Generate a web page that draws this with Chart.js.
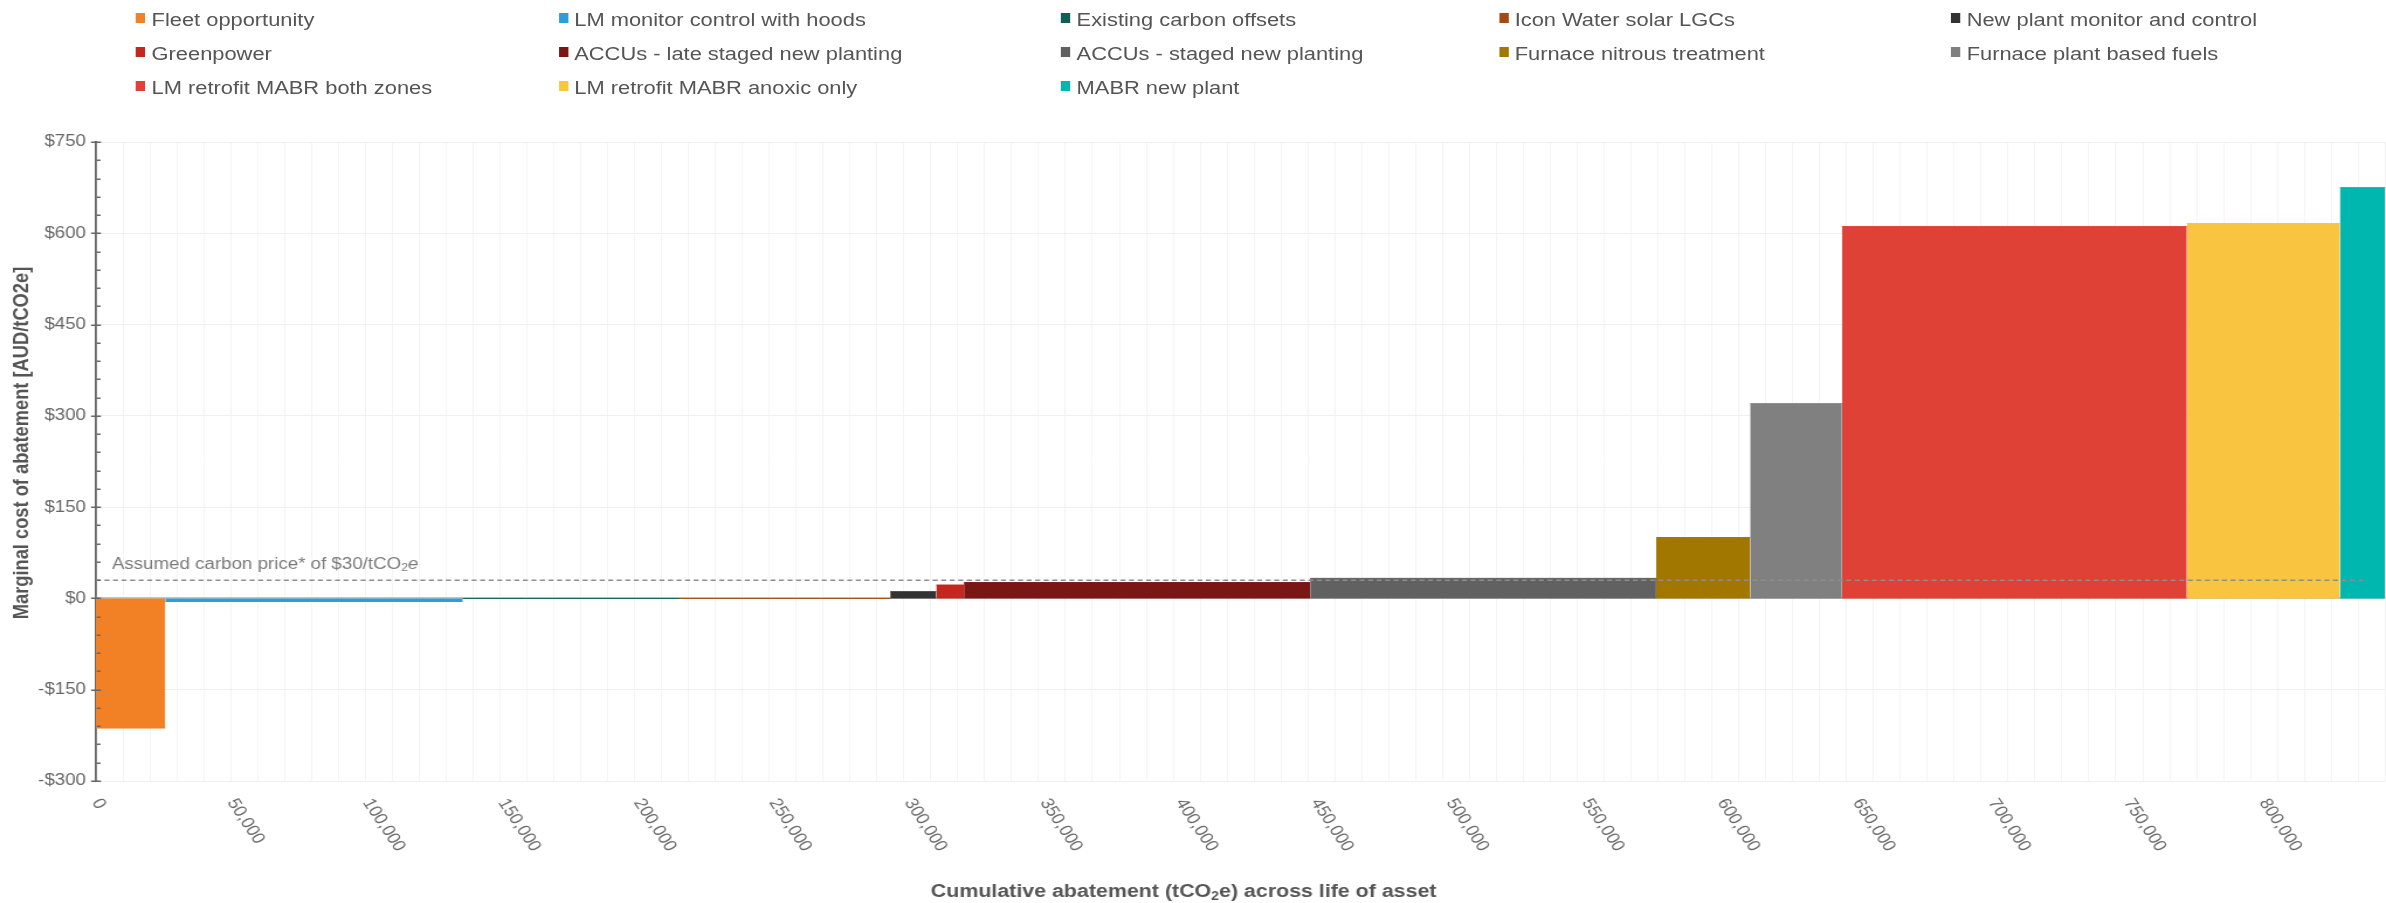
<!DOCTYPE html>
<html>
<head>
<meta charset="utf-8">
<title>Marginal abatement cost curve</title>
<script src="https://cdn.jsdelivr.net/npm/chart.js@4.4.1/dist/chart.umd.min.js"></script>
<style>
  html, body { margin: 0; padding: 0; background: #ffffff; overflow: hidden; }
  #stage { position: absolute; left: 0; top: 0; width: 2040px; height: 903px;
           transform-origin: 0 0; transform: scaleX(1.16961); }
  #chartBox { position: absolute; left: 0; top: 0; width: 2040px; height: 903px; }
  #legend { position: absolute; left: 0; top: 0; width: 2040px; height: 110px; }
  .lg-item { position: absolute; height: 20px; line-height: 20px; white-space: nowrap;
             font: 18.7px "Liberation Sans", Arial, sans-serif; color: #555555; }
  .lg-sw { position: absolute; left: 0; top: 4.8px; width: 8px; height: 10px; }
  .lg-tx { position: absolute; left: 13.4px; top: 0; }
</style>
</head>
<body>
<div id="stage">
  <div id="chartBox"><canvas id="mac"></canvas></div>
  <div id="legend"></div>
</div>
<script>
// Abatement options, in merit order (cheapest first)
const categories = [
  'Fleet opportunity',
  'LM monitor control with hoods',
  'Existing carbon offsets',
  'Icon Water solar LGCs',
  'New plant monitor and control',
  'Greenpower',
  'ACCUs - late staged new planting',
  'ACCUs - staged new planting',
  'Furnace nitrous treatment',
  'Furnace plant based fuels',
  'LM retrofit MABR both zones',
  'LM retrofit MABR anoxic only',
  'MABR new plant'
];

// Abatement delivered by each option over the asset life (tCO2e) = bar width
const abatement = [25600, 109800, 80000, 77800, 17000, 10200, 127800, 127700, 34700, 33900, 127300, 56500, 40000];

// Marginal cost of each option (AUD/tCO2e) = bar height
const costs = [-213, -5, 0, 0, 11, 22, 26, 33, 100, 320, 611, 616, 675];

const colors = [
  '#f28125', '#2b9fd9', '#0f5e59', '#a54a12', '#333333',
  '#c3271f', '#7a1613', '#616161', '#a27700', '#808080',
  '#e04137', '#f9c541', '#00b7af'
];

// Assumed carbon price reference line
const carbonPrice = 30;
const carbonPriceSpan = [0, 838000];

// Axis ranges and tick spacing
const xRange = [0, 845000];
const xMinorStep = 10000;
const xMajorStep = 50000;
const xLabelMax = 800000;
const yRange = [-300, 750];
const yMajorStep = 150;
const yMinorStep = 30;

const FONT = '"Liberation Sans", Arial, sans-serif';
Chart.defaults.font.family = FONT;

// Each option becomes a filled step from its cumulative start to end
let cumulative = 0;
const blockSets = categories.map((name, i) => {
  const x0 = cumulative;
  const x1 = cumulative + abatement[i];
  cumulative = x1;
  return {
    type: 'line',
    label: name,
    data: [{ x: x0, y: costs[i] }, { x: x1, y: costs[i] }],
    fill: 'origin',
    backgroundColor: colors[i],
    borderColor: colors[i],
    borderWidth: 1,
    pointRadius: 0,
    pointHoverRadius: 0,
    tension: 0,
    order: 1
  };
});

const priceSet = {
  type: 'line',
  label: 'carbon price',
  data: [{ x: carbonPriceSpan[0], y: carbonPrice }, { x: carbonPriceSpan[1], y: carbonPrice }],
  fill: false,
  borderColor: '#8e8e8e',
  borderWidth: 1.5,
  borderDash: [4.3, 3],
  pointRadius: 0,
  order: 0
};

const fmtMoney = v => (v < 0 ? '-$' : '$') + Math.abs(v);
const fmtThousands = v => v.toLocaleString('en-US');

// Extra axis furniture: minor y ticks, slanted x labels, axis titles, price note
const furniture = {
  id: 'furniture',
  afterDraw(chart) {
    const { ctx, chartArea } = chart;
    const xs = chart.scales.x, ys = chart.scales.y;
    ctx.save();

    // y-axis tick marks: long across the axis for majors, short inward for minors
    ctx.strokeStyle = '#666666';
    ctx.lineWidth = 1.5;
    for (let v = yRange[0]; v <= yRange[1]; v += yMinorStep) {
      const py = Math.round(ys.getPixelForValue(v)) + 0.25;
      const major = v % yMajorStep === 0;
      ctx.beginPath();
      if (major) { ctx.moveTo(chartArea.left - 4.2, py); ctx.lineTo(chartArea.left + 4.3, py); }
      else { ctx.moveTo(chartArea.left + 0.6, py); ctx.lineTo(chartArea.left + 3.9, py); }
      ctx.stroke();
    }

    // x tick labels, slanted down to the right
    ctx.fillStyle = '#6a6a6a';
    ctx.font = '16px ' + FONT;
    ctx.textAlign = 'left';
    ctx.textBaseline = 'middle';
    for (let v = xRange[0]; v <= xLabelMax; v += xMajorStep) {
      const px = xs.getPixelForValue(v);
      ctx.save();
      ctx.translate(px, chartArea.bottom + 19);
      ctx.rotate(Math.PI / 3);
      ctx.fillText(fmtThousands(v), 0, 0);
      ctx.restore();
    }

    // helper: text made of runs (for the subscript "2")
    const drawParts = (parts, x, y, align) => {
      let total = 0;
      parts.forEach(p => { ctx.font = p.font; total += ctx.measureText(p.t).width; });
      let cx = align === 'center' ? x - total / 2 : x;
      ctx.textAlign = 'left';
      parts.forEach(p => {
        ctx.font = p.font;
        ctx.fillText(p.t, cx, y + (p.dy || 0));
        cx += ctx.measureText(p.t).width;
      });
    };

    // x-axis title
    ctx.fillStyle = '#555555';
    ctx.textBaseline = 'alphabetic';
    const tb = 'bold 18.3px ' + FONT, ts = 'bold 12px ' + FONT;
    drawParts([
      { t: 'Cumulative abatement (tCO', font: tb },
      { t: '2', font: ts, dy: 3 },
      { t: 'e) across life of asset', font: tb }
    ], 1012, 897, 'center');

    // y-axis title
    ctx.save();
    ctx.translate(19, 443);
    ctx.rotate(-Math.PI / 2);
    ctx.font = 'bold 18.3px ' + FONT;
    ctx.textAlign = 'center';
    ctx.textBaseline = 'middle';
    ctx.fillText('Marginal cost of abatement [AUD/tCO2e]', 0, 0);
    ctx.restore();

    // carbon price note above the dashed line
    ctx.fillStyle = '#7a7a7a';
    ctx.textBaseline = 'alphabetic';
    const priceY = ys.getPixelForValue(carbonPrice);
    drawParts([
      { t: 'Assumed carbon price* of $' + carbonPrice + '/tCO', font: '16px ' + FONT },
      { t: '2', font: '10.5px ' + FONT, dy: 2 },
      { t: 'e', font: 'italic 16px ' + FONT }
    ], chartArea.left + 13.7, priceY - 11, 'left');

    ctx.restore();
  }
};

new Chart(document.getElementById('mac'), {
  type: 'line',
  data: { datasets: [priceSet, ...blockSets] },
  options: {
    responsive: true,
    maintainAspectRatio: false,
    animation: false,
    devicePixelRatio: 1,
    layout: { padding: { top: 142, bottom: 122, left: 0, right: 0 } },
    plugins: { legend: { display: false }, tooltip: { enabled: false } },
    scales: {
      x: {
        type: 'linear',
        min: xRange[0],
        max: xRange[1],
        border: { display: false },
        ticks: { display: false, stepSize: xMinorStep, includeBounds: false },
        grid: {
          drawTicks: false,
          color: c => (c.tick.value % xMajorStep === 0 ? '#e3e3e3' : '#f4f4f4'),
          lineWidth: c => (c.tick.value % xMajorStep === 0 ? 1.5 : 1)
        }
      },
      y: {
        type: 'linear',
        min: yRange[0],
        max: yRange[1],
        afterFit: s => { s.width = 82; },
        border: { color: '#666666', width: 1.8 },
        ticks: {
          stepSize: yMajorStep,
          padding: 8.5,
          color: '#666666',
          font: { size: 16 },
          callback: v => fmtMoney(v)
        },
        grid: {
          drawTicks: false,
          color: c => (c.tick.value === 0 ? '#c4c4c4' : '#f0f0f0'),
          lineWidth: c => (c.tick.value === 0 ? 2 : 1)
        }
      }
    }
  },
  plugins: [furniture]
});

// Legend grid: five columns, filled row by row
const legendCols = [116.2, 477.6, 907.1, 1281.6, 1668.1];
const legendRows = [8.5, 42.5, 76.5];
const legendEl = document.getElementById('legend');
categories.forEach((name, i) => {
  const item = document.createElement('div');
  item.className = 'lg-item';
  item.style.left = legendCols[i % 5] + 'px';
  item.style.top = legendRows[Math.floor(i / 5)] + 'px';
  const sw = document.createElement('span');
  sw.className = 'lg-sw';
  sw.style.background = colors[i];
  const tx = document.createElement('span');
  tx.className = 'lg-tx';
  tx.textContent = name;
  item.appendChild(sw);
  item.appendChild(tx);
  legendEl.appendChild(item);
});
</script>
</body>
</html>
